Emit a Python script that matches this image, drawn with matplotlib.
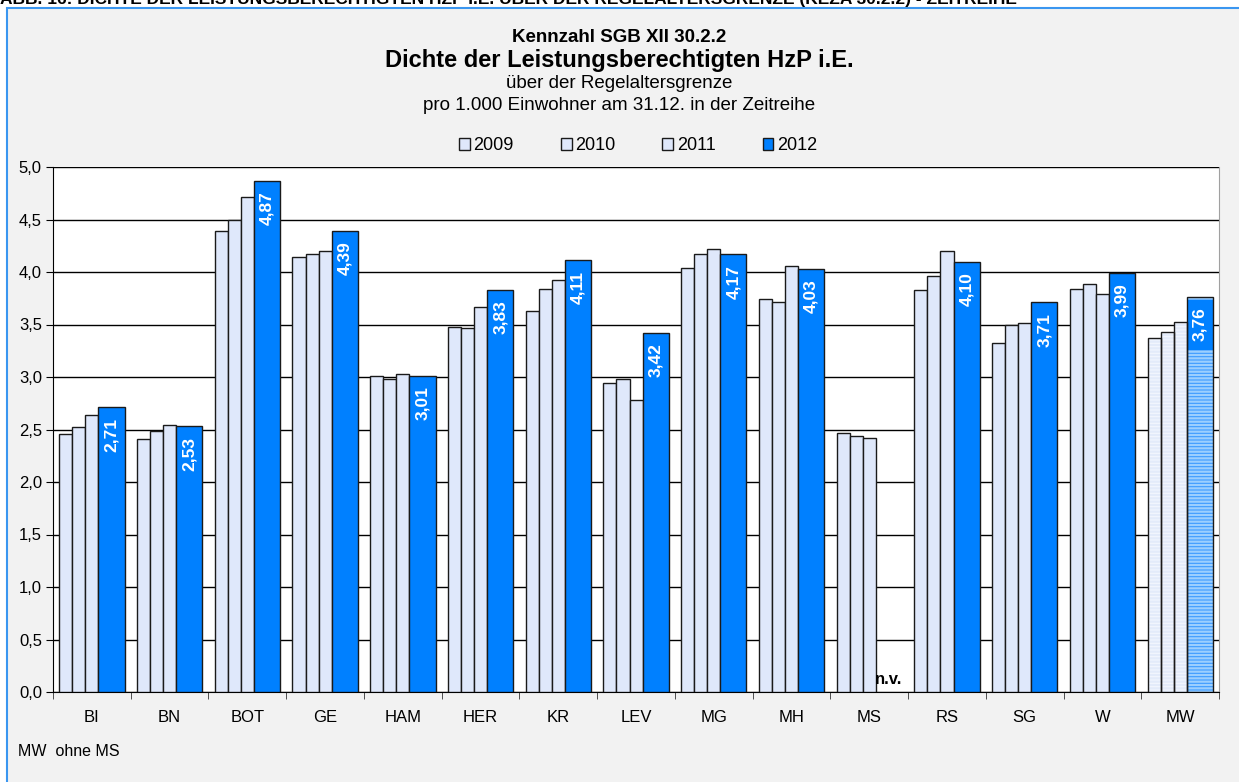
import numpy as np
import matplotlib.pyplot as plt
from matplotlib.patches import Rectangle

plt.rcParams['font.family'] = ['Liberation Sans', 'DejaVu Sans']
plt.rcParams['hatch.linewidth'] = 1.6

cities = ['BI', 'BN', 'BOT', 'GE', 'HAM', 'HER', 'KR', 'LEV', 'MG', 'MH', 'MS', 'RS', 'SG', 'W', 'MW']
years = ['2009', '2010', '2011', '2012']
v2009 = [2.46, 2.41, 4.39, 4.14, 3.01, 3.48, 3.63, 2.94, 4.04, 3.74, 2.47, 3.83, 3.32, 3.84, 3.37]
v2010 = [2.52, 2.49, 4.50, 4.17, 2.98, 3.47, 3.84, 2.98, 4.17, 3.71, 2.44, 3.96, 3.50, 3.89, 3.43]
v2011 = [2.64, 2.54, 4.71, 4.20, 3.03, 3.67, 3.92, 2.78, 4.22, 4.06, 2.42, 4.20, 3.51, 3.79, 3.52]
v2012 = [2.71, 2.53, 4.87, 4.39, 3.01, 3.83, 4.11, 3.42, 4.17, 4.03, np.nan, 4.10, 3.71, 3.99, 3.76]

light = '#dfe8fb'
blue = '#0080ff'

fig = plt.figure(figsize=(12.39, 7.82), dpi=100)
fig.patch.set_facecolor('white')

# grey chart box with blue frame (runs past the right/bottom edge)
fig.patches.append(Rectangle((7 / 1239, -0.05), 1.1, 1 - 8 / 782 + 0.05,
                             transform=fig.transFigure, facecolor='#f2f2f2',
                             edgecolor='#3a96f0', lw=1.5, zorder=-5))

# page heading, cut off at the top
fig.text(0.0, 1 - 4 / 782, 'ABB. 16: DICHTE DER LEISTUNGSBERECHTIGTEN HZP I.E. ÜBER DER REGELALTERSGRENZE (KEZA 30.2.2) - ZEITREIHE',
         ha='left', va='baseline', fontsize=12.5, fontweight='bold', color='black', zorder=-4)

ax = fig.add_axes([53 / 1239, 1 - 692 / 782, (1219 - 53) / 1239, (692 - 167) / 782])
ax.set_facecolor('white')

x = np.arange(len(cities))
w = 0.168
offs = [-0.335, -0.167, 0.001, 0.253]
widths = [w, w, w, 2 * w]
series = [v2009, v2010, v2011, v2012]
colors = [light, light, light, blue]
mw = len(cities) - 1

handles = []
for i, vals in enumerate(series):
    vals = np.array(vals, dtype=float)
    b = ax.bar(x[:mw] + offs[i], vals[:mw], widths[i], color=colors[i],
               edgecolor='#1a1a1a', lw=1, zorder=3)
    handles.append(b)
    # striped bar for the mean
    hc, hf = ('#9ccfff', '#3d9bff') if i == 3 else ('#e3ebfa', '#f3f7fe')
    ax.bar(x[mw] + offs[i], vals[mw], widths[i], color=hf, edgecolor=hc,
           hatch='-----', lw=0, zorder=3)
    ax.bar(x[mw] + offs[i], vals[mw], widths[i], color='none',
           edgecolor='#1a1a1a', lw=1, zorder=4)

# solid label field on top of the striped mean bar
cap = 0.47
ax.bar(x[mw] + offs[3], cap, widths[3], bottom=v2012[mw] - cap - 0.03,
       color=blue, lw=0, zorder=3.5)

# value labels inside the 2012 bars
for xi, v in zip(x, v2012):
    if np.isnan(v):
        continue
    ax.text(xi + offs[3], v - 0.1, f'{v:.2f}'.replace('.', ','), rotation=90,
            ha='center', va='top', color='white', fontsize=12.5,
            fontweight='bold', zorder=6)

ax.text(10 + offs[3], 0.05, 'n.v.', ha='center', va='bottom', fontsize=12,
        fontweight='bold', zorder=6)

ax.set_ylim(0, 5)
ax.set_xlim(-0.5, len(cities) - 0.5)
yt = np.arange(0, 5.01, 0.5)
ax.set_yticks(yt)
ax.set_yticklabels([f'{t:.1f}'.replace('.', ',') for t in yt], fontsize=12)
ax.set_xticks(x)
ax.set_xticklabels(cities, fontsize=12)
ax.set_xticks(np.arange(-0.5, len(cities)), minor=True)
ax.tick_params(axis='x', which='major', length=0, pad=13)
ax.tick_params(axis='x', which='minor', length=5, direction='out', color='#333333')
ax.tick_params(axis='y', length=5, direction='out', pad=3)
ax.yaxis.grid(True, color='black', lw=1)
ax.set_axisbelow(True)
ax.spines['top'].set_visible(False)
ax.spines['right'].set_color('#a0a0a0')
ax.spines['left'].set_color('black')
ax.spines['bottom'].set_color('black')

fig.text(0.5, 1 - 38 / 782, 'Kennzahl SGB XII 30.2.2', ha='center', va='center',
         fontsize=13.5, fontweight='bold')
fig.text(0.5, 1 - 60 / 782, 'Dichte der Leistungsberechtigten HzP i.E.', ha='center',
         va='center', fontsize=17, fontweight='bold')
fig.text(0.5, 1 - 83 / 782, 'über der Regelaltersgrenze', ha='center', va='center',
         fontsize=13.5)
fig.text(0.5, 1 - 105 / 782, 'pro 1.000 Einwohner am 31.12. in der Zeitreihe',
         ha='center', va='center', fontsize=13.5)

fig.legend(handles, years, loc='center', bbox_to_anchor=(0.515, 1 - 146 / 782),
           ncol=4, frameon=False, fontsize=13, handlelength=0.6, handleheight=0.6,
           handletextpad=0.2, columnspacing=2.6)

fig.text(18 / 1239, 1 - 752 / 782, 'MW  ohne MS', ha='left', va='center', fontsize=11.5)

fig.savefig('out.png', dpi=100, facecolor=fig.get_facecolor())
